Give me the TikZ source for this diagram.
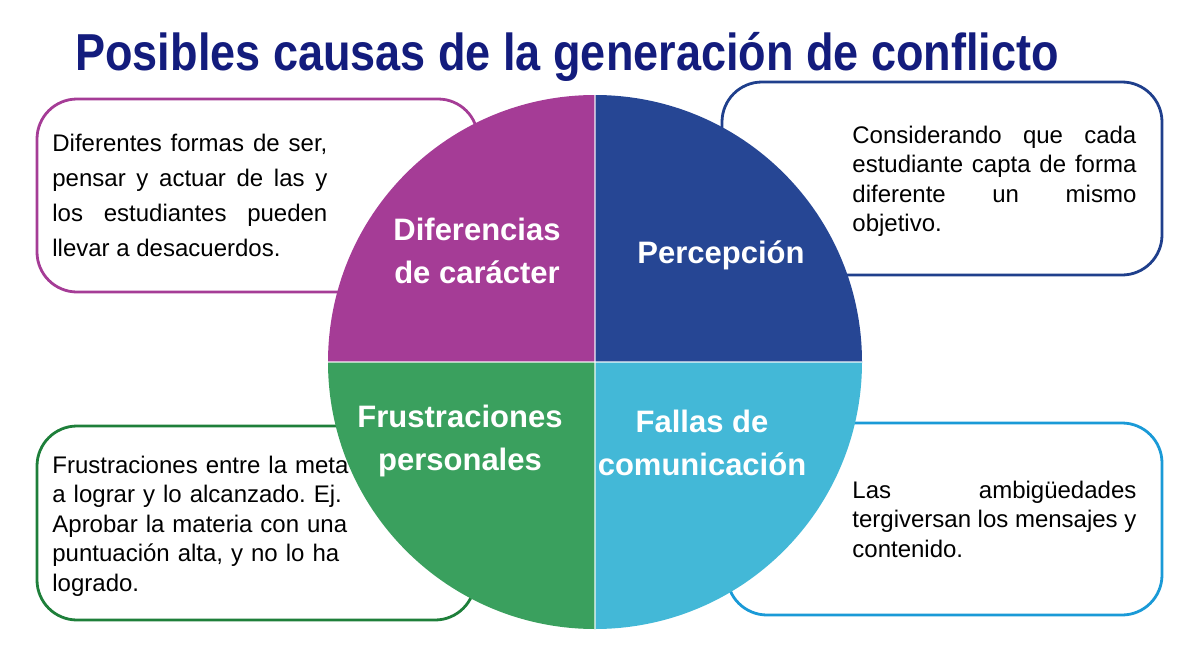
\documentclass[tikz,border=0pt]{standalone}
\usepackage{fontspec}
\setmainfont{Liberation Sans}
\newfontfamily\titlefont{Liberation Sans}[FakeStretch=0.866]
\usepackage{tikz}
\usetikzlibrary{positioning}
\frenchspacing

\definecolor{titulo}{HTML}{131C7D}
\definecolor{morado}{HTML}{A53C96}
\definecolor{azul}{HTML}{264694}
\definecolor{verde}{HTML}{3AA05E}
\definecolor{celeste}{HTML}{43B8D7}
\definecolor{bordeazul}{HTML}{1F3F8C}
\definecolor{bordeverde}{HTML}{1E7F3A}
\definecolor{bordeceleste}{HTML}{1A9AD7}

\begin{document}
\begin{tikzpicture}[
      x=0.5pt, y=0.5pt,
      caja/.style={draw, rounded corners=20pt, line width=1.4pt, fill=white, inner sep=0pt},
      txt/.style={font=\fontsize{12}{14.75}\selectfont, text width=141pt, align=justify, inner sep=0pt, anchor=base west},
      lbl/.style={font=\fontsize{15.5}{21.75}\selectfont\bfseries, text=white, align=center, inner sep=0pt, anchor=base},
      sep/.style={draw=white, draw opacity=0.6, line width=0.8pt}
    ]
    \useasboundingbox (0,0) rectangle (1200,650);

    % ===== title =====
    \node[font=\titlefont\bfseries\fontsize{26}{30}\selectfont, text=titulo, anchor=base west, inner sep=0pt] (tit) at (75,580) {Posibles causas de la generación de conflicto};

    % ===== boxes (behind the circle) =====
    \node[caja, draw=morado, minimum width=220.5pt, minimum height=96.5pt] (bDif) at (257.5,454.5) {};
    \node[caja, draw=bordeazul, minimum width=220pt, minimum height=96.5pt] (bPer) at (942,471.5) {};
    \node[caja, draw=bordeverde, minimum width=219pt, minimum height=97pt] (bFru) at (256,127) {};
    \node[caja, draw=bordeceleste, minimum width=217.5pt, minimum height=96pt] (bFal) at (944.5,131) {};

    % ===== circle in four quarters =====
    \coordinate (c) at (595,288);
    \fill[morado]  (c) -- ++(-267,0) arc[start angle=180, end angle=90, radius=267] -- cycle;
    \fill[azul]    (c) -- ++(0,267) arc[start angle=90, end angle=0, radius=267] -- cycle;
    \fill[celeste] (c) -- ++(267,0) arc[start angle=0, end angle=-90, radius=267] -- cycle;
    \fill[verde]   (c) -- ++(0,-267) arc[start angle=270, end angle=180, radius=267] -- cycle;
    \draw[sep] (c) -- ++(0,267);
    \draw[sep] (c) -- ++(0,-267);
    \draw[sep] (c) -- ++(-267,0);
    \draw[sep] (c) -- ++(267,0);

    % ===== quarter labels (base = last line) =====
    \node[lbl] (lDif) at (477,366.5) {Diferencias\\de carácter};
    \node[lbl] (lPer) at (721,387) {Percepción};
    \node[lbl] (lFru) at (460,179.5) {Frustraciones\\personales};
    \node[lbl] (lFal) at (702,174.5) {Fallas de\\comunicación};

    % ===== box texts =====
    \node[txt, font=\fontsize{12}{17.5}\selectfont, text width=137.5pt] (tDif) at (52,498.3)
      {Diferentes formas de ser,\linebreak pensar y actuar de las y\linebreak los estudiantes pueden\linebreak llevar a desacuerdos.};
    \node[txt, text width=142pt] (tPer) at (852,506.7)
      {Considerando que cada\linebreak estudiante capta de forma\linebreak diferente un mismo\linebreak objetivo.};
    \node[txt, align=left, text width=160pt] (tFru) at (52,176.7)
      {Frustraciones entre la meta\\a lograr y lo alcanzado. Ej.\\Aprobar la materia con una\\puntuación alta, y no lo ha\\logrado.};
    \node[txt, text width=142pt] (tFal) at (852,151.7)
      {Las ambigüedades\linebreak tergiversan los mensajes y\linebreak contenido.};
\end{tikzpicture}
\end{document}
